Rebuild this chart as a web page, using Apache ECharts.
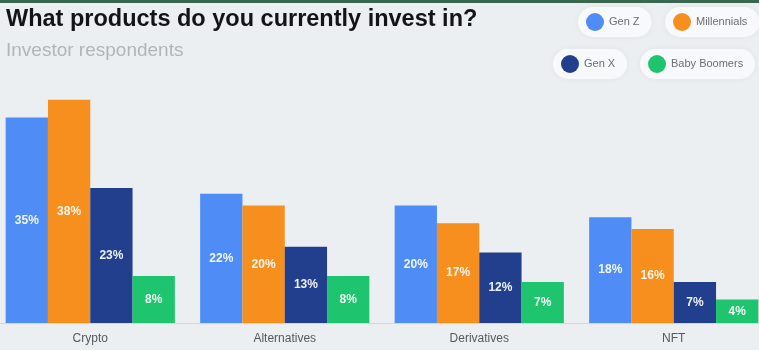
<!DOCTYPE html>
<html>
<head>
<meta charset="utf-8">
<script src="https://cdn.jsdelivr.net/npm/echarts@6/dist/echarts.min.js"></script>
<style>
  html, body { margin: 0; padding: 0; background: #ECEFF2; overflow: hidden; }
  /* The plot runs a few pixels past both page edges, so the canvas is
     widened and shifted left; every other element is placed at X + 7. */
  #chart { width: 778px; height: 350px; margin-left: -7px; }
</style>
</head>
<body>
<div id="chart"></div>
<script>
// Survey: share of investors holding each product, by generation (%)
const categories = ['Crypto', 'Alternatives', 'Derivatives', 'NFT'];
const genZ = [35, 22, 20, 18];
const millennials = [38, 20, 17, 16];
const genX = [23, 13, 12, 7];
const babyBoomers = [8, 8, 7, 4];

const seriesNames = ['Gen Z', 'Millennials', 'Gen X', 'Baby Boomers'];
const seriesColors = ['#4F8CF6', '#F78F1E', '#223F8E', '#1EC46E'];
const seriesValues = [genZ, millennials, genX, babyBoomers];

const FONT = '"Liberation Sans", Arial, sans-serif';
const SHIFT = 7;

// One pill-shaped legend per series
const legendSpots = [
  { left: 578, top: 7 },
  { left: 665, top: 7 },
  { left: 553, top: 49 },
  { left: 640, top: 49 }
];
const legends = seriesNames.map((name, i) => ({
  data: [name],
  left: legendSpots[i].left + SHIFT,
  top: legendSpots[i].top,
  orient: 'horizontal',
  icon: 'circle',
  itemWidth: 18,
  itemHeight: 18,
  padding: [6, 12, 6, 8],
  backgroundColor: '#F8F9FB',
  borderRadius: 16,
  shadowBlur: 6,
  shadowColor: 'rgba(0,0,0,0.05)',
  selectedMode: false,
  textStyle: { color: '#6A6E74', fontSize: 11, fontFamily: FONT }
}));

const chart = echarts.init(document.getElementById('chart'), null, { renderer: 'canvas' });

chart.setOption({
  backgroundColor: '#ECEFF2',
  animation: false,
  title: {
    text: 'What products do you currently invest in?',
    subtext: 'Investor respondents',
    left: 6 + SHIFT,
    top: 8,
    padding: 0,
    itemGap: 9,
    textStyle: { color: '#121417', fontSize: 23.5, fontWeight: 'bold', fontFamily: FONT },
    subtextStyle: { color: '#B1B5BA', fontSize: 19, fontFamily: FONT }
  },
  legend: legends,
  graphic: [{
    type: 'rect',
    left: 0,
    top: 0,
    shape: { width: 778, height: 3 },
    style: { fill: '#3A6650' },
    silent: true
  }],
  grid: { left: 0, right: 0, top: 88, bottom: 27, containLabel: false },
  xAxis: {
    type: 'category',
    data: categories,
    axisTick: { show: false },
    axisLine: { lineStyle: { color: '#D3D6DA', width: 1 } },
    axisLabel: { color: '#55595E', fontSize: 12, margin: 10, fontFamily: FONT }
  },
  yAxis: {
    type: 'value',
    min: 0,
    max: 40,
    show: false,
    splitLine: { show: false }
  },
  series: seriesNames.map((name, i) => ({
    name: name,
    type: 'bar',
    data: seriesValues[i],
    barGap: '0%',
    barCategoryGap: '13%',
    itemStyle: { color: seriesColors[i] },
    label: {
      show: true,
      position: 'inside',
      formatter: '{c}%',
      color: 'rgba(255,255,255,0.92)',
      fontSize: 12,
      fontWeight: 'bold',
      fontFamily: FONT
    }
  }))
});
</script>
</body>
</html>
